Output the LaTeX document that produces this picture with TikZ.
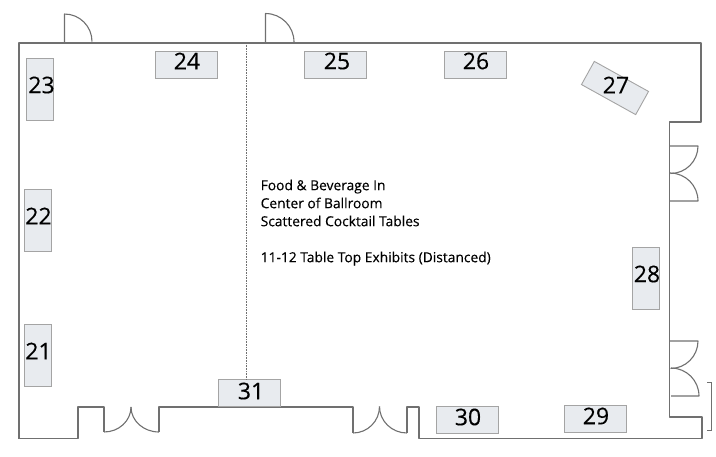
\documentclass[tikz,border=0pt]{standalone}
\usepackage{fontspec}
\setmainfont{Open Sans}
\newfontfamily\heavyfont[FakeBold=0.25]{Open Sans}
\definecolor{wallgray}{HTML}{707070}
\definecolor{tablefill}{HTML}{E8EBEF}
\definecolor{tableline}{HTML}{A4A4A4}
\tikzset{
  wall/.style={draw=wallgray,line width=1.1pt,line join=round},
  tablebox/.style={draw=tableline,fill=tablefill,line width=.9pt,inner sep=0pt,
    minimum width=62pt,minimum height=26.5pt},
  tablenum/.style={font=\heavyfont\fontsize{23}{23}\selectfont,inner sep=0pt,text=black},
}
\begin{document}
\begin{tikzpicture}[x=1pt,y=-1pt]
    \useasboundingbox (0,0) rectangle (716,456);

    % Room outline
    \draw[wall] (19,438.5) -- (19,43) -- (701,43) -- (701,122) -- (669.5,122) -- (669.5,417)
      -- (702,417) -- (702,438.5) -- (419,438.5) -- (419,407) -- (407,407)
      -- (407,433);
    \draw[wall] (353,433) -- (353,407) -- (159,407) -- (159,432);
    \draw[wall] (104,432) -- (104,407) -- (78,407) -- (78,438.5) -- (19,438.5);

    % Doors on the top wall
    \draw[wall] (64.5,42) -- (64.5,14) arc[start angle=-90,end angle=0,radius=27.5];
    \draw[wall] (265.5,42) -- (265.5,13.5) arc[start angle=-90,end angle=0,radius=28.5];

    % Doors on the bottom wall
    \draw[wall] (104,432) arc[start angle=90,end angle=0,x radius=27,y radius=25];
    \draw[wall] (159,432) arc[start angle=90,end angle=180,x radius=28,y radius=25];
    \draw[wall] (353,433) arc[start angle=90,end angle=0,radius=26.5];
    \draw[wall] (407,433) arc[start angle=90,end angle=180,x radius=27.5,y radius=26.5];

    % Doors on the right wall
    \draw[wall] (669.5,146) -- (698,146) arc[start angle=0,end angle=90,radius=27.5];
    \draw[wall] (669.5,201) -- (698,201) arc[start angle=0,end angle=-90,radius=28];
    \draw[wall] (669.5,341) -- (698,341) arc[start angle=0,end angle=90,radius=27.5];
    \draw[wall] (671,396) -- (699,396) arc[start angle=0,end angle=-90,radius=28];

    % Wide tables
    \foreach \num/\xt/\yt in {24/186/65, 25/335.5/65, 26/475.5/65, 31/249.5/393,
        30/467/420, 29/595/419} {
      \node[tablebox] (t\num) at (\xt,\yt) {};
    }
    % Upright tables
    \foreach \num/\xt/\yt in {23/40/89, 22/38/220.5, 21/38/355, 28/646/278} {
      \node[tablebox,rotate=90] (t\num) at (\xt,\yt) {};
    }
    % Corner table
    \node[tablebox,rotate=-29] (t27) at (615,88) {};

    % Table numbers
    \foreach \num/\xn/\yn in {23/41.5/85, 24/187/61, 25/337/61, 26/476/61, 27/616/85,
        28/647/274, 22/38.5/216, 21/38.5/351, 30/468/417, 29/596/416, 31/251/391} {
      \node[tablenum] (n\num) at (\xn,\yn) {\num};
    }

    % Divider
    \coordinate (divtop) at (246.5,43);
    \draw[densely dotted,draw=wallgray,line width=.6pt] (divtop) -- (divtop |- t31.north);

    % Notes
    \node[anchor=north west,align=left,inner sep=0pt,
      font=\heavyfont\fontsize{13.8}{18}\selectfont,
      text=black] (notes) at (260.5,179.5)
      {Food \& Beverage In\\Center of Ballroom\\Scattered Cocktail Tables\\[18pt]
       11-12 Table Top Exhibits (Distanced)};

    % Dimension bracket
    \draw[draw=wallgray,line width=.7pt] (707,382) -- (711,382) -- (711,430) -- (707,430);

\end{tikzpicture}
\end{document}
